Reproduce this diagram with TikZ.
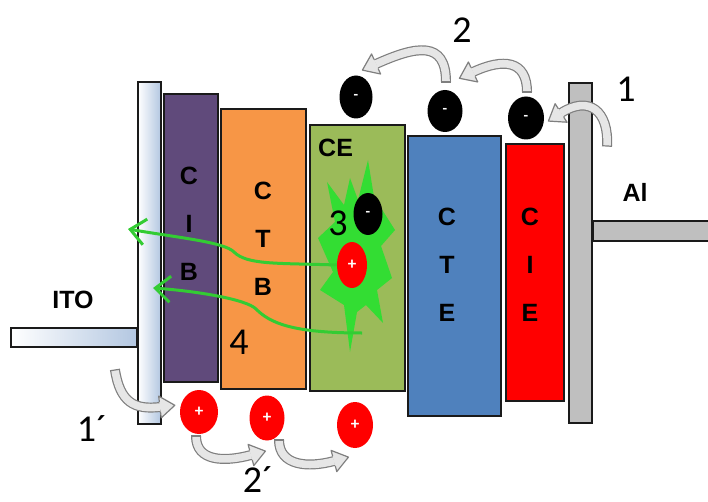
\documentclass[tikz,border=0pt]{standalone}
\usepackage{fontspec}
\setmainfont{Carlito}
\newfontfamily\arialfont{Liberation Sans}
\usetikzlibrary{shapes.geometric,arrows.meta,decorations.markings}
\definecolor{cibc}{HTML}{604A7B}
\definecolor{ctbc}{HTML}{F79646}
\definecolor{cec}{HTML}{9BBB59}
\definecolor{ctec}{HTML}{4F81BD}
\definecolor{ciec}{HTML}{FF0000}
\definecolor{alc}{HTML}{BFBFBF}
\definecolor{itoc}{HTML}{B3C7E1}
\definecolor{starc}{HTML}{33DD33}
\definecolor{grnarr}{HTML}{33CC33}
\definecolor{arrgray}{HTML}{7F7F7F}
\definecolor{arrfill}{HTML}{E6E6E6}
\definecolor{edge}{HTML}{1A1A1A}
\tikzset{
  headmark/.style={decorate,decoration={markings,
     mark=at position 0 with {\draw[arrgray,line width=1.2pt] (0,-5) -- (0,5);},
     mark=at position 0.999 with {\fill[arrfill] (0,-11) -- (15,0) -- (0,11) -- cycle;
        \draw[arrgray,line width=1.2pt,line join=round] (0,-5) -- (0,-11) -- (15,0) -- (0,11) -- (0,5);}}}}
\newcommand\grayarrow[1]{%
  \draw[arrgray,line width=10pt] #1;
  \draw[arrfill,line width=7.6pt] #1;
  \path[headmark] #1;}
\begin{document}
\begin{tikzpicture}[x=1pt,y=-1pt,
  layer/.style={draw=edge,line width=1.6pt,inner sep=0pt,anchor=north west},
  letters/.style={align=center,font=\arialfont\bfseries\fontsize{25}{48}\selectfont,inner sep=0pt},
  tag/.style={font=\arialfont\bfseries\fontsize{25}{25}\selectfont,inner sep=0pt},
  num/.style={font=\fontsize{38}{38}\selectfont,inner sep=0pt},
  elec/.style={ellipse,fill=black,inner sep=0pt,text=white,font=\bfseries\fontsize{15}{15}\selectfont},
  hole/.style={ellipse,fill=ciec,inner sep=0pt,text=white,font=\bfseries\fontsize{17}{17}\selectfont},
  garr/.style={draw=grnarr,line width=3pt,-{Straight Barb[length=15pt,width=26pt]}}]
\useasboundingbox (0,0) rectangle (708,502);
% electrodes
\node[layer,left color=white,right color=itoc,minimum width=126pt,minimum height=19pt] (itobar) at (10,327) {};
\node[layer,left color=white,right color=itoc,minimum width=23pt,minimum height=342pt] (ito) at (137,81) {};
\node[layer,fill=alc,minimum width=120pt,minimum height=20pt] (albar) at (592,220) {};
\node[layer,fill=alc,minimum width=23pt,minimum height=340pt] (al) at (568,82) {};
% layers
\node[layer,fill=cibc,minimum width=54pt,minimum height=288pt] (cib) at (163,93) {};
\node[layer,fill=ctbc,minimum width=85pt,minimum height=280pt] (ctb) at (220,108) {};
\node[layer,fill=cec,minimum width=95pt,minimum height=266pt] (ce) at (309,124) {};
\node[layer,fill=ctec,minimum width=93pt,minimum height=280pt] (cte) at (407,135) {};
\node[layer,fill=ciec,minimum width=58pt,minimum height=257pt] (cie) at (505,143) {};
% letters
\node[letters] (tcib) at (189,224) {C\\I\\B};
\node[letters] (tctb) at (263,239) {C\\T\\B};
\node[letters] (tcte) at (447,265) {C\\T\\E};
\node[letters] (tcie) at (530,265) {C\\I\\E};
\node[tag,anchor=west] (tce) at (318,148) {CE};
\node[tag] (tito) at (73,300) {ITO};
\node[tag] (tal) at (635,192) {Al};
% exciton burst
\fill[starc] (368,160) -- (374,197) -- (395,230) -- (381,246) -- (392,278) -- (377,290)
  -- (383,323) -- (366,305) -- (357,312) -- (350,352) -- (344,305) -- (320,290)
  -- (333,272) -- (318,238) -- (335,222) -- (327,182) -- (344,205) -- (350,178)
  -- (358,200) -- cycle;
% charges
\node[hole,minimum width=30pt,minimum height=46pt] (h0) at (352,265) {+};
\node[elec,minimum width=29pt,minimum height=42pt] (e4) at (368,214) {-};
\node[elec,minimum width=33pt,minimum height=43pt] (e1) at (356,97) {-};
\node[elec,minimum width=35pt,minimum height=42pt] (e2) at (445,111) {-};
\node[elec,minimum width=36pt,minimum height=43pt] (e3) at (526,118) {-};
\node[hole,minimum width=38pt,minimum height=44pt] (h1) at (199,412) {+};
\node[hole,minimum width=35pt,minimum height=45pt] (h2) at (267,418) {+};
\node[hole,minimum width=36pt,minimum height=46pt] (h3) at (355,425) {+};
% green arrows
\coordinate (gA1) at (234,252);
\coordinate (gA) at (128,229);
\coordinate (gB0) at (362,333);
\coordinate (gB1) at (256,309);
\coordinate (gB) at (153,288);
\draw[garr] (h0.west) .. controls +(-60,-2) and +(13,13) .. (gA1) .. controls +(-10,-10) and +(52,9) .. (gA);
\draw[garr] (gB0) .. controls +(-70,0) and +(14,14) .. (gB1) .. controls +(-10,-10) and +(42,3) .. (gB);
% gray hopping arrows
\coordinate (a1t) at (607,146); \coordinate (a1h) at (561,113);
\coordinate (a2t) at (527,92);  \coordinate (a2h) at (473,72);
\coordinate (a3t) at (446,82);  \coordinate (a3h) at (376,64);
\coordinate (a4t) at (115,370); \coordinate (a4h) at (160,407);
\coordinate (a5t) at (196,436); \coordinate (a5h) at (251,455);
\coordinate (a6t) at (279,440); \coordinate (a6h) at (334,461);
\grayarrow{(a1t) .. controls +(2,-35) and +(28,-18) .. (a1h)}
\grayarrow{(a2t) .. controls +(0,-32) and +(30,-14) .. (a2h)}
\grayarrow{(a3t) .. controls +(0,-42) and +(40,-18) .. (a3h)}
\grayarrow{(a4t) .. controls +(5,32) and +(-26,3) .. (a4h)}
\grayarrow{(a5t) .. controls +(0,26) and +(-26,7) .. (a5h)}
\grayarrow{(a6t) .. controls +(0,26) and +(-26,7) .. (a6h)}
% step labels
\node[num] (n1) at (626,89) {1};
\node[num] (n2) at (462,30) {2};
\node[num] (n3) at (338,223) {3};
\node[num] (n4) at (239,342) {4};
\node[num] (n1p) at (92,429) {1´};
\node[num] (n2p) at (258,480) {2´};
\end{tikzpicture}
\end{document}
